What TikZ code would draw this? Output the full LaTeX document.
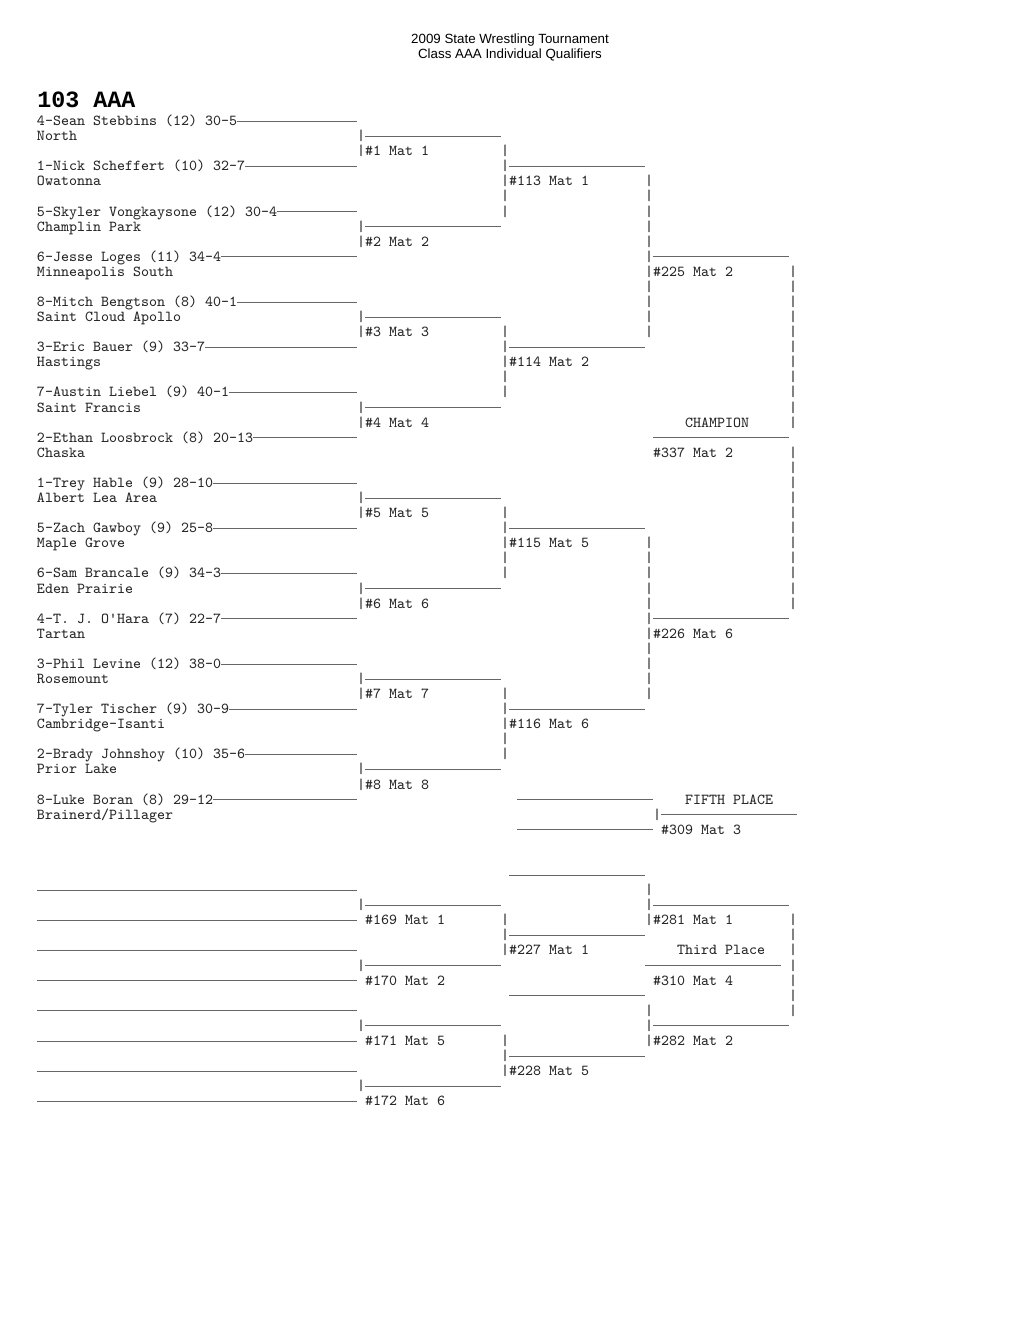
\documentclass[tikz,border=0pt]{standalone}
\usepackage{fontspec}
\setmainfont{Liberation Sans}
\newfontfamily\boldmono{Liberation Mono}
\newcounter{nd}
\newcommand{\Wt}[3]{\stepcounter{nd}\node[txt] (w\arabic{nd}) at (#1,#2+0.3) {#3};}
\newcommand{\Pl}[2]{\stepcounter{nd}\node[txt] (w\arabic{nd}) at (0,#1+0.3) {#2};\draw[hl] (w\arabic{nd}.base east) ++(0,-0.3) -- (40,#1);}
\newcommand{\Hl}[3]{\draw[hl] (#1,#3) -- (#2,#3);}
\newcommand{\Vb}[2]{\Wt{#1}{#2}{|}}
\begin{document}
\begin{tikzpicture}[x=4.8pt,y=-9.048pt,
  txt/.style={anchor=base west,inner sep=0pt,outer sep=0pt,font=\ttfamily\fontsize{9.143}{10}\selectfont,text=black!85},
  hl/.style={draw=black!60,line width=0.45pt}]
\useasboundingbox (-4.625,-8.024) rectangle (122.875,79.509);
% titles
\node[anchor=base,inner sep=0pt,font=\fontsize{8}{9}\selectfont] (title1) at (59.125,-5.14) {2009 State Wrestling Tournament};
\node[anchor=base,inner sep=0pt,font=\fontsize{8}{9}\selectfont] (title2) at (59.125,-4.145) {Class AAA Individual Qualifiers};
\node[anchor=base west,inner sep=0pt,font=\boldmono\bfseries\fontsize{14}{16}\selectfont] (weight) at (0,-0.928) {103 AAA};
% wrestlers
\Pl{0}{4-Sean Stebbins (12) 30-5}      \Wt{0}{1}{North}
\Pl{3}{1-Nick Scheffert (10) 32-7}     \Wt{0}{4}{Owatonna}
\Pl{6}{5-Skyler Vongkaysone (12) 30-4} \Wt{0}{7}{Champlin Park}
\Pl{9}{6-Jesse Loges (11) 34-4}        \Wt{0}{10}{Minneapolis South}
\Pl{12}{8-Mitch Bengtson (8) 40-1}     \Wt{0}{13}{Saint Cloud Apollo}
\Pl{15}{3-Eric Bauer (9) 33-7}         \Wt{0}{16}{Hastings}
\Pl{18}{7-Austin Liebel (9) 40-1}      \Wt{0}{19}{Saint Francis}
\Pl{21}{2-Ethan Loosbrock (8) 20-13}   \Wt{0}{22}{Chaska}
\Pl{24}{1-Trey Hable (9) 28-10}        \Wt{0}{25}{Albert Lea Area}
\Pl{27}{5-Zach Gawboy (9) 25-8}        \Wt{0}{28}{Maple Grove}
\Pl{30}{6-Sam Brancale (9) 34-3}       \Wt{0}{31}{Eden Prairie}
\Pl{33}{4-T. J. O'Hara (7) 22-7}       \Wt{0}{34}{Tartan}
\Pl{36}{3-Phil Levine (12) 38-0}       \Wt{0}{37}{Rosemount}
\Pl{39}{7-Tyler Tischer (9) 30-9}      \Wt{0}{40}{Cambridge-Isanti}
\Pl{42}{2-Brady Johnshoy (10) 35-6}    \Wt{0}{43}{Prior Lake}
\Pl{45}{8-Luke Boran (8) 29-12}        \Wt{0}{46}{Brainerd/Pillager}
% round 1
\foreach \j in {1,...,8}{
  \pgfmathtruncatemacro{\rr}{6*(\j-1)+1}
  \Vb{40}{\rr} \Hl{41}{58}{\rr}
  \Wt{40}{\rr+1}{|\#\j{} Mat \j}
}
% round 2
\foreach \k/\lab in {0/113 Mat 1,1/114 Mat 2,2/115 Mat 5,3/116 Mat 6}{
  \pgfmathtruncatemacro{\bb}{12*\k}
  \Vb{58}{\bb+2} \Vb{58}{\bb+3} \Hl{59}{76}{\bb+3}
  \Wt{58}{\bb+4}{|\#\lab}
  \Vb{58}{\bb+5} \Vb{58}{\bb+6}
}
% semifinals
\foreach \rr in {4,5,6,7,8,9,11,12,13,14,28,29,30,31,32,33,35,36,37,38}{\Vb{76}{\rr}}
\Hl{77}{94}{9}  \Wt{76}{10}{|\#225 Mat 2}
\Hl{77}{94}{33} \Wt{76}{34}{|\#226 Mat 6}
% final
\foreach \rr in {10,11,12,13,14,15,16,17,18,19,20,22,23,24,25,26,27,28,29,30,31,32}{\Vb{94}{\rr}}
\Wt{81}{20}{CHAMPION}
\Hl{77}{94}{21}
\Wt{77}{22}{\#337 Mat 2}
% fifth place
\Hl{60}{77}{45} \Wt{81}{45}{FIFTH PLACE}
\Vb{77}{46} \Hl{78}{95}{46}
\Hl{60}{77}{47} \Wt{78}{47}{\#309 Mat 3}
% consolation
\Hl{59}{76}{50}
\Hl{0}{40}{51} \Vb{76}{51}
\Vb{40}{52} \Hl{41}{58}{52} \Vb{76}{52} \Hl{77}{94}{52}
\Hl{0}{40}{53} \Wt{41}{53}{\#169 Mat 1} \Vb{58}{53} \Wt{76}{53}{|\#281 Mat 1} \Vb{94}{53}
\Vb{58}{54} \Hl{59}{76}{54} \Vb{94}{54}
\Hl{0}{40}{55} \Wt{58}{55}{|\#227 Mat 1} \Wt{80}{55}{Third Place} \Vb{94}{55}
\Vb{40}{56} \Hl{41}{58}{56} \Hl{76}{93}{56} \Vb{94}{56}
\Hl{0}{40}{57} \Wt{41}{57}{\#170 Mat 2} \Wt{77}{57}{\#310 Mat 4} \Vb{94}{57}
\Hl{59}{76}{58} \Vb{94}{58}
\Hl{0}{40}{59} \Vb{76}{59} \Vb{94}{59}
\Vb{40}{60} \Hl{41}{58}{60} \Vb{76}{60} \Hl{77}{94}{60}
\Hl{0}{40}{61} \Wt{41}{61}{\#171 Mat 5} \Vb{58}{61} \Wt{76}{61}{|\#282 Mat 2}
\Vb{58}{62} \Hl{59}{76}{62}
\Hl{0}{40}{63} \Wt{58}{63}{|\#228 Mat 5}
\Vb{40}{64} \Hl{41}{58}{64}
\Hl{0}{40}{65} \Wt{41}{65}{\#172 Mat 6}
\end{tikzpicture}
\end{document}
